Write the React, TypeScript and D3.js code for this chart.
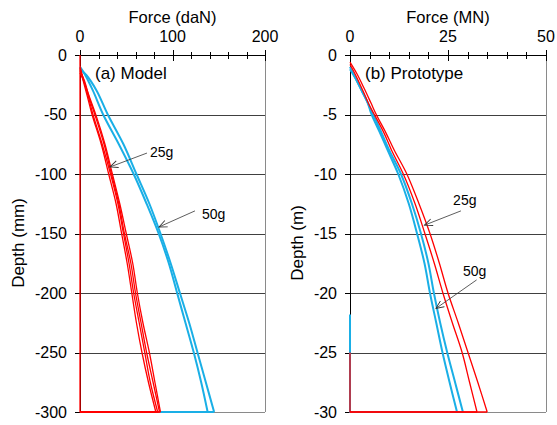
import React from "react";
import * as d3 from "d3";

type Pt = [number, number];

// (a) Model: force in daN, depth in mm
const modelXTicks = [0, 100, 200];
const modelYTicks = [0, -50, -100, -150, -200, -250, -300];
const modelBlue50g: Pt[][] = [
  [[0, -10], [5, -16], [14, -30], [25, -50], [42, -75], [58, -100], [72, -125], [85, -150], [96, -175], [105, -200], [114, -225], [123, -250], [131, -275], [138, -300], [0, -300]],
  [[0, -12], [7, -17], [18, -30], [30, -50], [47, -75], [61, -100], [75, -125], [87, -150], [98, -175], [108, -200], [118, -225], [127, -250], [136, -275], [145, -300], [0, -300]],
];
const modelRed25g: Pt[][] = [
  [[0, -9], [3, -20], [8, -35], [13, -50], [23, -75], [31, -100], [39, -125], [45, -150], [51, -175], [56, -200], [61, -225], [67, -250], [74, -275], [82, -300], [0, -300], [0, 0]],
  [[0, -11], [4, -21], [9, -35], [14, -50], [24, -75], [33, -100], [41, -125], [47, -150], [53, -175], [58, -200], [64, -225], [70, -250], [76, -275], [84, -300], [0, -300]],
  [[0, -13], [5, -22], [10, -36], [16, -50], [26, -75], [34, -100], [42, -125], [48, -150], [55, -175], [60, -200], [66, -225], [72, -250], [79, -275], [86, -300], [0, -300]],
  [[0, -15], [5, -24], [11, -37], [17, -50], [27, -75], [35, -100], [43, -125], [50, -150], [57, -175], [62, -200], [68, -225], [75, -250], [81, -275], [87, -300], [0, -300]],
];

// (b) Prototype: force in MN, depth in m
const protoXTicks = [0, 25, 50];
const protoYTicks = [0, -5, -10, -15, -20, -25, -30];
const protoBlue50g: Pt[][] = [
  [[0, -1], [1.5, -2], [3, -3], [4.5, -4], [5.5, -5], [7.6, -6.5], [9.6, -8], [12.3, -10], [15, -12.5], [17.1, -15], [19, -17.5], [20.4, -20], [22, -22.5], [23.6, -25], [25.4, -27.5], [27.3, -30], [0, -30], [0, -21.8]],
  [[0, -1.2], [1.8, -2.2], [3.3, -3.2], [4.8, -4.2], [5.9, -5], [8, -6.5], [10, -8], [13, -10], [15.8, -12.5], [18.1, -15], [20, -17.5], [21.4, -20], [23, -22.5], [24.8, -25], [26.8, -27.5], [28.8, -30], [0, -30]],
];
const protoRed25g: Pt[][] = [
  [[0, -0.8], [1.6, -1.8], [3.3, -3], [4.9, -4.2], [6.2, -5], [8.6, -6.5], [10.6, -8], [13.6, -10], [16.6, -12.5], [19.1, -15], [21.5, -17.5], [23.7, -20], [26.1, -22.5], [28.6, -25], [30.5, -27.5], [32.4, -30], [0, -30], [0, -25]],
  [[0, -0.6], [1.8, -1.6], [3.6, -2.8], [5.3, -4], [6.7, -5], [9.1, -6.5], [11.3, -8], [14.5, -10], [17.6, -12.5], [20.4, -15], [22.8, -17.5], [25, -20], [27.6, -22.5], [30.1, -25], [32.6, -27.5], [35, -30], [0, -30]],
];

type Note = { text: string; from: Pt; to: Pt; at: Pt };
const modelNotes: Note[] = [
  { text: "25g", from: [72.4, -82.4], to: [32.4, -94.1], at: [75.7, -85.7] },
  { text: "50g", from: [124.3, -131], to: [85.4, -144.5], at: [131.9, -137.8] },
];
const protoNotes: Note[] = [
  { text: "25g", from: [28.3, -13.1], to: [19.0, -14.3], at: [26.3, -12.6] },
  { text: "50g", from: [32.3, -18.9], to: [21.9, -21.3], at: [28.8, -18.6] },
];

const FONT = "'Liberation Sans', Arial, sans-serif";
const RED = "#FF0000";
const BLUE = "#1AAFE6";
const TOP = 55;
const BOTTOM = 412;

type PanelProps = {
  left: number;
  right: number;
  xTicks: number[];
  minorStep: number;
  yTicks: number[];
  xTitle: string;
  yTitle: string;
  yTitleX: number;
  label: string;
  red: Pt[][];
  blue: Pt[][];
  notes: Note[];
};

const Panel = (p: PanelProps) => {
  const xMax = p.xTicks[p.xTicks.length - 1];
  const yMin = p.yTicks[p.yTicks.length - 1];
  const x = d3.scaleLinear([0, xMax], [p.left, p.right]);
  const y = d3.scaleLinear([0, yMin], [TOP, BOTTOM]);
  const smooth = d3
    .line<Pt>()
    .x((d) => x(d[0]))
    .y((d) => y(d[1]))
    .curve(d3.curveCatmullRom.alpha(0.5));
  const straight = d3
    .line<Pt>()
    .x((d) => x(d[0]))
    .y((d) => y(d[1]));
  // the measured profile is smoothed, the return to zero force stays straight
  const pathOf = (s: Pt[]) => {
    let end = s.length;
    while (end > 1 && s[end - 1][0] === 0) end--;
    const body = s.slice(0, end);
    const tail = s.slice(end - 1);
    return (smooth(body) ?? "") + (tail.length > 1 ? straight(tail) ?? "" : "");
  };
  const minors = d3.range(0, xMax + 1e-9, p.minorStep);
  const cx = (p.left + p.right) / 2;

  return (
    <g fontFamily={FONT} fill="#000">
      {/* horizontal grid */}
      {p.yTicks.slice(1).map((t, i) => (
        <line
          key={"g" + t}
          x1={p.left}
          x2={p.right}
          y1={Math.round(y(t)) + 0.5}
          y2={Math.round(y(t)) + 0.5}
          stroke={i === p.yTicks.length - 2 ? "#8a8a8a" : "#404040"}
          strokeWidth={1}
        />
      ))}
      <line x1={p.right + 0.5} x2={p.right + 0.5} y1={TOP} y2={BOTTOM} stroke="#8a8a8a" />
      {/* left axis */}
      <line x1={p.left + 0.5} x2={p.left + 0.5} y1={TOP} y2={BOTTOM} stroke="#000" />
      {p.yTicks.map((t) => (
        <g key={"y" + t}>
          <line x1={p.left - 5} x2={p.left} y1={Math.round(y(t)) + 0.5} y2={Math.round(y(t)) + 0.5} stroke="#000" />
          <text x={p.left - 13} y={y(t)} dy="0.35em" textAnchor="end" fontSize={16}>
            {t}
          </text>
        </g>
      ))}
      {/* top axis */}
      <line x1={p.left} x2={p.right + 1} y1={TOP + 0.5} y2={TOP + 0.5} stroke="#000" />
      {minors.map((t) => (
        <line key={"m" + t} x1={Math.round(x(t)) + 0.5} x2={Math.round(x(t)) + 0.5} y1={TOP - 3} y2={TOP + 4} stroke="#000" />
      ))}
      {p.xTicks.map((t) => (
        <g key={"x" + t}>
          <line x1={Math.round(x(t)) + 0.5} x2={Math.round(x(t)) + 0.5} y1={TOP - 5} y2={TOP + 6} stroke="#000" />
          <text x={x(t)} y={42} textAnchor="middle" fontSize={16}>
            {t}
          </text>
        </g>
      ))}
      <text x={cx} y={23} textAnchor="middle" fontSize={16.5}>
        {p.xTitle}
      </text>
      <text
        transform={`translate(${p.yTitleX},${243}) rotate(-90)`}
        textAnchor="middle"
        fontSize={17}
      >
        {p.yTitle}
      </text>
      <text x={p.left + 15} y={79} fontSize={17}>
        {p.label}
      </text>
      {/* curves */}
      {p.blue.map((s, i) => (
        <path key={"b" + i} d={pathOf(s)} fill="none" stroke={BLUE} strokeWidth={2} strokeLinejoin="round" />
      ))}
      {p.red.map((s, i) => (
        <path key={"r" + i} d={pathOf(s)} fill="none" stroke={RED} strokeWidth={1.3} strokeLinejoin="round" />
      ))}
      {/* annotations */}
      {p.notes.map((n) => (
        <g key={n.text}>
          <line
            x1={x(n.from[0])}
            y1={y(n.from[1])}
            x2={x(n.to[0])}
            y2={y(n.to[1])}
            stroke="#333"
            strokeWidth={0.8}
            markerEnd="url(#openArrow)"
          />
          <text x={x(n.at[0])} y={y(n.at[1])} fontSize={14}>
            {n.text}
          </text>
        </g>
      ))}
    </g>
  );
};

export default function App() {
  return (
    <svg
      width={557}
      height={425}
      style={{ position: "absolute", left: 0, top: 0, background: "#fff" }}
    >
      <defs>
        <marker
          id="openArrow"
          markerUnits="userSpaceOnUse"
          markerWidth={12}
          markerHeight={12}
          viewBox="0 0 12 12"
          refX={10}
          refY={6}
          orient="auto"
        >
          <path d="M2,2.5 L10,6 L2,9.5" fill="none" stroke="#333" strokeWidth={0.9} />
        </marker>
      </defs>
      <rect width={557} height={425} fill="#fff" />
      <Panel
        left={80}
        right={265}
        xTicks={modelXTicks}
        minorStep={20}
        yTicks={modelYTicks}
        xTitle="Force (daN)"
        yTitle="Depth (mm)"
        yTitleX={24}
        label="(a) Model"
        red={modelRed25g}
        blue={modelBlue50g}
        notes={modelNotes}
      />
      <Panel
        left={350}
        right={546}
        xTicks={protoXTicks}
        minorStep={5}
        yTicks={protoYTicks}
        xTitle="Force (MN)"
        yTitle="Depth (m)"
        yTitleX={303}
        label="(b) Prototype"
        red={protoRed25g}
        blue={protoBlue50g}
        notes={protoNotes}
      />
    </svg>
  );
}
